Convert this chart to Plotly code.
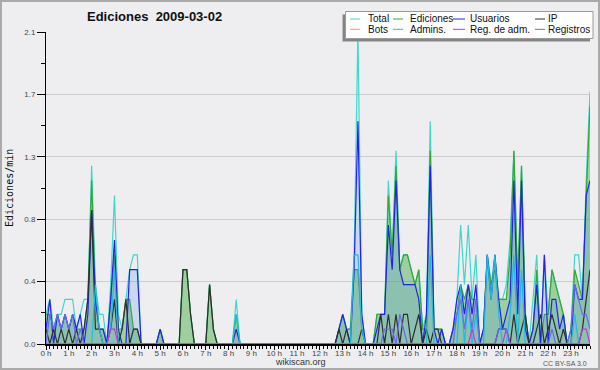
import plotly.graph_objects as go

# ---------------- data (10-minute bins, edits per minute) ----------------
HOUR_LABELS = [f"{h} h" for h in range(24)]
Y_TICKS = [0, 0.42, 0.84, 1.26, 1.68, 2.1]
Y_LABELS = ["0.0", "0.4", "0.8", "1.3", "1.7", "2.1"]

total = [
    0.2, 0.3, 0.1, 0.2, 0.2, 0.3,   # 0 h
    0.3, 0.3, 0.1, 0.2, 0.3, 0.3,   # 1 h
    1.2, 0.4, 0.2, 0.2, 0.0, 0.4,   # 2 h
    1.0, 0.2, 0.1, 0.3, 0.5, 0.6,   # 3 h
    0.6, 0.0, 0.0, 0.0, 0.0, 0.0,   # 4 h
    0.1, 0.0, 0.0, 0.0, 0.0, 0.0,   # 5 h
    0.5, 0.5, 0.2, 0.0, 0.0, 0.0,   # 6 h
    0.0, 0.4, 0.1, 0.0, 0.0, 0.0,   # 7 h
    0.0, 0.0, 0.3, 0.0, 0.0, 0.0,   # 8 h
    0.0, 0.0, 0.0, 0.0, 0.0, 0.0,   # 9 h
    0.0, 0.0, 0.0, 0.0, 0.0, 0.0,   # 10 h
    0.0, 0.0, 0.0, 0.0, 0.0, 0.0,   # 11 h
    0.0, 0.0, 0.0, 0.0, 0.0, 0.1,   # 12 h
    0.2, 0.1, 0.1, 0.6, 2.1, 0.2,   # 13 h
    0.0, 0.0, 0.0, 0.2, 0.2, 0.2,   # 14 h
    1.1, 0.6, 1.3, 0.5, 0.6, 0.6,   # 15 h
    0.5, 0.4, 0.5, 0.1, 0.2, 1.5,   # 16 h
    0.1, 0.1, 0.1, 0.0, 0.0, 0.1,   # 17 h
    0.3, 0.8, 0.4, 0.8, 0.3, 0.6,   # 18 h
    0.0, 0.1, 0.6, 0.4, 0.6, 0.3,   # 19 h
    0.3, 0.4, 0.7, 1.3, 0.4, 1.2,   # 20 h
    0.2, 0.0, 0.3, 0.6, 0.0, 0.6,   # 21 h
    0.2, 0.5, 0.4, 0.3, 0.2, 0.0,   # 22 h
    0.1, 0.6, 0.6, 0.3, 1.1, 1.7,   # 23 h
]

ediciones = [
    0.2, 0.2, 0.1, 0.2, 0.1, 0.2,
    0.1, 0.2, 0.1, 0.1, 0.1, 0.3,
    1.1, 0.3, 0.1, 0.1, 0.0, 0.3,
    0.6, 0.1, 0.1, 0.3, 0.3, 0.1,
    0.1, 0.0, 0.0, 0.0, 0.0, 0.0,
    0.1, 0.0, 0.0, 0.0, 0.0, 0.0,
    0.5, 0.5, 0.2, 0.0, 0.0, 0.0,
    0.0, 0.4, 0.1, 0.0, 0.0, 0.0,
    0.0, 0.0, 0.2, 0.0, 0.0, 0.0,
    0.0, 0.0, 0.0, 0.0, 0.0, 0.0,
    0.0, 0.0, 0.0, 0.0, 0.0, 0.0,
    0.0, 0.0, 0.0, 0.0, 0.0, 0.0,
    0.0, 0.0, 0.0, 0.0, 0.0, 0.1,
    0.2, 0.1, 0.1, 0.5, 0.5, 0.1,
    0.0, 0.0, 0.0, 0.2, 0.2, 0.2,
    1.0, 0.6, 1.2, 0.5, 0.6, 0.6,
    0.5, 0.4, 0.5, 0.1, 0.1, 1.3,
    0.1, 0.1, 0.1, 0.0, 0.0, 0.1,
    0.2, 0.4, 0.3, 0.4, 0.3, 0.3,
    0.0, 0.1, 0.6, 0.4, 0.5, 0.3,
    0.3, 0.3, 0.6, 1.3, 0.4, 1.2,
    0.2, 0.0, 0.1, 0.5, 0.0, 0.2,
    0.2, 0.5, 0.4, 0.3, 0.2, 0.0,
    0.1, 0.5, 0.4, 0.3, 1.0, 1.6,
]

usuarios = [
    0.1, 0.3, 0.0, 0.2, 0.1, 0.2,
    0.1, 0.2, 0.1, 0.2, 0.0, 0.2,
    0.9, 0.3, 0.1, 0.1, 0.0, 0.3,
    0.7, 0.1, 0.0, 0.0, 0.5, 0.5,
    0.5, 0.0, 0.0, 0.0, 0.0, 0.0,
    0.1, 0.0, 0.0, 0.0, 0.0, 0.0,
    0.0, 0.0, 0.0, 0.0, 0.0, 0.0,
    0.0, 0.0, 0.0, 0.0, 0.0, 0.0,
    0.0, 0.0, 0.1, 0.0, 0.0, 0.0,
    0.0, 0.0, 0.0, 0.0, 0.0, 0.0,
    0.0, 0.0, 0.0, 0.0, 0.0, 0.0,
    0.0, 0.0, 0.0, 0.0, 0.0, 0.0,
    0.0, 0.0, 0.0, 0.0, 0.0, 0.1,
    0.2, 0.1, 0.0, 0.5, 1.5, 0.2,
    0.0, 0.0, 0.0, 0.1, 0.2, 0.2,
    0.8, 0.5, 1.1, 0.5, 0.4, 0.4,
    0.4, 0.4, 0.3, 0.0, 0.2, 1.2,
    0.1, 0.0, 0.1, 0.0, 0.0, 0.1,
    0.3, 0.4, 0.2, 0.4, 0.2, 0.4,
    0.0, 0.1, 0.6, 0.3, 0.6, 0.3,
    0.1, 0.2, 0.3, 1.1, 0.2, 1.1,
    0.1, 0.0, 0.1, 0.4, 0.0, 0.6,
    0.0, 0.3, 0.3, 0.1, 0.2, 0.0,
    0.0, 0.4, 0.3, 0.3, 1.0, 1.1,
]

ip = [
    0.1, 0.0, 0.1, 0.0, 0.1, 0.0,
    0.1, 0.0, 0.1, 0.0, 0.1, 0.3,
    0.9, 0.1, 0.1, 0.0, 0.0, 0.1,
    0.3, 0.0, 0.1, 0.3, 0.0, 0.1,
    0.1, 0.0, 0.0, 0.0, 0.0, 0.0,
    0.0, 0.0, 0.0, 0.0, 0.0, 0.0,
    0.5, 0.5, 0.2, 0.0, 0.0, 0.0,
    0.0, 0.4, 0.1, 0.0, 0.0, 0.0,
    0.0, 0.0, 0.0, 0.0, 0.0, 0.0,
    0.0, 0.0, 0.0, 0.0, 0.0, 0.0,
    0.0, 0.0, 0.0, 0.0, 0.0, 0.0,
    0.0, 0.0, 0.0, 0.0, 0.0, 0.0,
    0.0, 0.0, 0.0, 0.0, 0.0, 0.1,
    0.0, 0.1, 0.0, 0.0, 0.0, 0.1,
    0.0, 0.0, 0.0, 0.0, 0.2, 0.0,
    0.2, 0.0, 0.2, 0.0, 0.2, 0.2,
    0.0, 0.1, 0.2, 0.0, 0.1, 0.0,
    0.1, 0.1, 0.0, 0.0, 0.0, 0.0,
    0.0, 0.0, 0.0, 0.0, 0.0, 0.0,
    0.0, 0.0, 0.0, 0.0, 0.0, 0.1,
    0.1, 0.1, 0.0, 0.2, 0.0, 0.1,
    0.2, 0.0, 0.0, 0.1, 0.2, 0.0,
    0.1, 0.2, 0.1, 0.0, 0.1, 0.0,
    0.0, 0.0, 0.0, 0.1, 0.3, 0.5,
]

bots = [
    0.0, 0.0, 0.0, 0.0, 0.0, 0.0,
    0.0, 0.0, 0.0, 0.0, 0.0, 0.0,
    0.0, 0.0, 0.0, 0.0, 0.0, 0.0,
    0.0, 0.0, 0.0, 0.0, 0.0, 0.0,
    0.0, 0.0, 0.0, 0.0, 0.0, 0.0,
    0.0, 0.0, 0.0, 0.0, 0.0, 0.0,
    0.0, 0.0, 0.0, 0.0, 0.0, 0.0,
    0.0, 0.0, 0.0, 0.0, 0.0, 0.0,
    0.0, 0.0, 0.0, 0.0, 0.0, 0.0,
    0.0, 0.0, 0.0, 0.0, 0.0, 0.0,
    0.0, 0.0, 0.0, 0.0, 0.0, 0.0,
    0.0, 0.0, 0.0, 0.0, 0.0, 0.0,
    0.0, 0.0, 0.0, 0.0, 0.0, 0.0,
    0.0, 0.0, 0.0, 0.0, 0.0, 0.0,
    0.0, 0.0, 0.0, 0.0, 0.0, 0.0,
    0.0, 0.0, 0.0, 0.0, 0.0, 0.0,
    0.0, 0.0, 0.0, 0.0, 0.0, 0.0,
    0.0, 0.0, 0.0, 0.0, 0.0, 0.0,
    0.0, 0.0, 0.0, 0.0, 0.0, 0.0,
    0.0, 0.0, 0.0, 0.0, 0.0, 0.0,
    0.0, 0.0, 0.0, 0.0, 0.0, 0.0,
    0.0, 0.0, 0.0, 0.0, 0.0, 0.0,
    0.0, 0.0, 0.0, 0.0, 0.0, 0.0,
    0.0, 0.0, 0.0, 0.0, 0.0, 0.0,
]

admins = [
    0.0, 0.0, 0.0, 0.0, 0.0, 0.0,
    0.0, 0.0, 0.0, 0.0, 0.0, 0.0,
    0.0, 0.4, 0.1, 0.0, 0.0, 0.1,
    0.5, 0.0, 0.0, 0.0, 0.0, 0.0,
    0.0, 0.0, 0.0, 0.0, 0.0, 0.0,
    0.0, 0.0, 0.0, 0.0, 0.0, 0.0,
    0.0, 0.0, 0.0, 0.0, 0.0, 0.0,
    0.0, 0.0, 0.0, 0.0, 0.0, 0.0,
    0.0, 0.0, 0.2, 0.0, 0.0, 0.0,
    0.0, 0.0, 0.0, 0.0, 0.0, 0.0,
    0.0, 0.0, 0.0, 0.0, 0.0, 0.0,
    0.0, 0.0, 0.0, 0.0, 0.0, 0.0,
    0.0, 0.0, 0.0, 0.0, 0.0, 0.0,
    0.0, 0.0, 0.0, 0.6, 0.6, 0.1,
    0.0, 0.0, 0.0, 0.0, 0.0, 0.0,
    0.0, 0.0, 0.0, 0.0, 0.0, 0.0,
    0.0, 0.0, 0.0, 0.0, 0.0, 0.6,
    0.0, 0.0, 0.0, 0.0, 0.0, 0.0,
    0.0, 0.4, 0.0, 0.3, 0.0, 0.2,
    0.0, 0.0, 0.6, 0.3, 0.6, 0.2,
    0.0, 0.0, 0.2, 0.6, 0.0, 0.5,
    0.0, 0.0, 0.0, 0.0, 0.0, 0.0,
    0.0, 0.0, 0.0, 0.0, 0.0, 0.0,
    0.0, 0.2, 0.0, 0.0, 0.0, 0.0,
]

reg_adm = [
    0.0, 0.0, 0.0, 0.0, 0.0, 0.0,
    0.0, 0.0, 0.0, 0.0, 0.0, 0.0,
    0.0, 0.0, 0.0, 0.0, 0.0, 0.1,
    0.1, 0.0, 0.0, 0.0, 0.0, 0.0,
    0.0, 0.0, 0.0, 0.0, 0.0, 0.0,
    0.0, 0.0, 0.0, 0.0, 0.0, 0.0,
    0.0, 0.0, 0.0, 0.0, 0.0, 0.0,
    0.0, 0.0, 0.0, 0.0, 0.0, 0.0,
    0.0, 0.0, 0.0, 0.0, 0.0, 0.0,
    0.0, 0.0, 0.0, 0.0, 0.0, 0.0,
    0.0, 0.0, 0.0, 0.0, 0.0, 0.0,
    0.0, 0.0, 0.0, 0.0, 0.0, 0.0,
    0.0, 0.0, 0.0, 0.0, 0.0, 0.0,
    0.0, 0.0, 0.0, 0.0, 0.0, 0.0,
    0.0, 0.0, 0.0, 0.0, 0.0, 0.0,
    0.0, 0.0, 0.0, 0.0, 0.0, 0.0,
    0.0, 0.0, 0.0, 0.0, 0.0, 0.0,
    0.0, 0.0, 0.0, 0.0, 0.0, 0.0,
    0.0, 0.0, 0.0, 0.0, 0.1, 0.0,
    0.0, 0.0, 0.0, 0.0, 0.0, 0.0,
    0.0, 0.1, 0.0, 0.0, 0.0, 0.0,
    0.0, 0.0, 0.0, 0.0, 0.0, 0.0,
    0.0, 0.0, 0.0, 0.0, 0.0, 0.0,
    0.0, 0.0, 0.0, 0.1, 0.1, 0.0,
]

registros = [
    0.0, 0.2, 0.1, 0.2, 0.1, 0.2,
    0.1, 0.2, 0.0, 0.1, 0.0, 0.0,
    0.0, 0.0, 0.0, 0.0, 0.0, 0.0,
    0.0, 0.0, 0.0, 0.0, 0.0, 0.0,
    0.0, 0.0, 0.0, 0.0, 0.0, 0.0,
    0.0, 0.0, 0.0, 0.0, 0.0, 0.0,
    0.0, 0.0, 0.0, 0.0, 0.0, 0.0,
    0.0, 0.0, 0.0, 0.0, 0.0, 0.0,
    0.0, 0.0, 0.0, 0.0, 0.0, 0.0,
    0.0, 0.0, 0.0, 0.0, 0.0, 0.0,
    0.0, 0.0, 0.0, 0.0, 0.0, 0.0,
    0.0, 0.0, 0.0, 0.0, 0.0, 0.0,
    0.0, 0.0, 0.0, 0.0, 0.0, 0.0,
    0.0, 0.0, 0.0, 0.0, 0.0, 0.0,
    0.0, 0.0, 0.0, 0.0, 0.0, 0.1,
    0.1, 0.1, 0.0, 0.2, 0.1, 0.0,
    0.0, 0.0, 0.0, 0.0, 0.0, 0.0,
    0.0, 0.0, 0.0, 0.0, 0.0, 0.0,
    0.2, 0.3, 0.1, 0.3, 0.1, 0.3,
    0.0, 0.0, 0.0, 0.0, 0.0, 0.1,
    0.1, 0.1, 0.0, 0.0, 0.0, 0.0,
    0.0, 0.0, 0.0, 0.0, 0.0, 0.0,
    0.0, 0.1, 0.0, 0.0, 0.0, 0.0,
    0.1, 0.4, 0.3, 0.2, 0.2, 0.1,
]

SERIES = [
    ("Total", total, "#3fd6cc", None),
    ("Ediciones", ediciones, "#33a833", "rgba(60,170,60,0.45)"),
    ("Usuarios", usuarios, "#2222ee", "rgba(80,140,230,0.22)"),
    ("IP", ip, "#2e2e2e", None),
    ("Bots", bots, "#ff9933", None),
    ("Admins.", admins, "#22bbdd", None),
    ("Reg. de adm.", reg_adm, "#cc33dd", None),
    ("Registros", registros, "#6a6af0", None),
]

N = len(total)
x = list(range(N))

# ---------------- geometry helpers (pixels -> paper) ----------------
W, H = 600, 370
ML, MR, MT, MB = 46, 10, 32, 26
PW, PH = W - ML - MR, H - MT - MB


def px(xp):
    return (xp - ML) / PW


def py(yp):
    return (H - MB - yp) / PH


fig = go.Figure()
for name, vals, color, fillc in SERIES:
    kw = {}
    if fillc:
        kw = dict(fill="tozeroy", fillcolor=fillc)
    fig.add_trace(go.Scatter(x=x, y=vals, name=name, mode="lines",
                             line=dict(color=color, width=1.2), **kw))

FONT = "Liberation Sans, Arial, sans-serif"

shapes = [
    # outer frame
    dict(type="rect", xref="paper", yref="paper", x0=px(1), x1=px(599), y0=py(369), y1=py(1),
         line=dict(color="#aaaaaa", width=2), fillcolor="rgba(0,0,0,0)", layer="above"),
    # legend shadow and box
    dict(type="rect", xref="paper", yref="paper", x0=px(342.5), x1=px(590), y0=py(41.5), y1=py(14.5),
         line=dict(width=0), fillcolor="#858585", layer="above"),
    dict(type="rect", xref="paper", yref="paper", x0=px(345.5), x1=px(593), y0=py(38.5), y1=py(11.5),
         line=dict(color="#999999", width=1), fillcolor="white", layer="above"),
]

annotations = [
    dict(text="<b>Ediciones\u00a0\u00a02009-03-02</b>", x=px(154), y=py(16.5), xref="paper", yref="paper",
         showarrow=False, xanchor="center", yanchor="middle", font=dict(family=FONT, size=13, color="#111")),
    dict(text="Ediciones/min", x=px(9), y=py(188), xref="paper", yref="paper", textangle=-90,
         showarrow=False, xanchor="center", yanchor="middle",
         font=dict(family="DejaVu Sans Mono, monospace", size=10, color="#111")),
    dict(text="wikiscan.org", x=px(300), y=py(361.5), xref="paper", yref="paper",
         showarrow=False, xanchor="center", yanchor="middle", font=dict(family=FONT, size=9, color="#333")),
    dict(text="CC BY-SA 3.0", x=px(589), y=py(363), xref="paper", yref="paper",
         showarrow=False, xanchor="right", yanchor="middle", font=dict(family=FONT, size=7, color="#555")),
]

# manual legend, 4 columns x 2 rows
col_sym = [(350, 360), (393, 403), (453, 465), (535, 545)]
col_txt = [366, 408, 468, 546]
row_y = [19, 29.3]
for k, (name, vals, color, fillc) in enumerate(SERIES):
    r, c = divmod(k, 4)
    s0, s1 = col_sym[c]
    shapes.append(dict(type="line", xref="paper", yref="paper", x0=px(s0), x1=px(s1),
                       y0=py(row_y[r]), y1=py(row_y[r]), line=dict(color=color, width=1), layer="above"))
    annotations.append(dict(text=name, x=px(col_txt[c]), y=py(row_y[r]), xref="paper", yref="paper",
                            showarrow=False, xanchor="left", yanchor="middle",
                            font=dict(family=FONT, size=10, color="#111")))

fig.update_layout(
    width=W, height=H,
    margin=dict(l=ML, r=MR, t=MT, b=MB, autoexpand=False),
    paper_bgcolor="#eeeef0", plot_bgcolor="#eeeef0",
    showlegend=False,
    shapes=shapes, annotations=annotations,
    xaxis=dict(range=[0, N - 1], tickmode="array", tickvals=[6 * h for h in range(24)], ticktext=HOUR_LABELS,
               ticks="outside", ticklen=4, tickwidth=1, tickcolor="black",
               minor=dict(tickvals=[i for i in range(N) if i % 6], ticks="outside", ticklen=3,
                          tickwidth=1, tickcolor="black", showgrid=False),
               showgrid=False, zeroline=False, showline=True, linecolor="black", linewidth=1.5,
               tickfont=dict(family=FONT, size=8, color="#444"), layer="above traces",
               ticklabelstandoff=-3),
    yaxis=dict(range=[0, 2.1], tickmode="array", tickvals=Y_TICKS, ticktext=Y_LABELS,
               ticks="outside", ticklen=8, tickwidth=1, tickcolor="black",
               minor=dict(tickvals=[0.21, 0.63, 1.05, 1.47, 1.89], ticks="outside", ticklen=4,
                          tickwidth=1, tickcolor="black", showgrid=False),
               showgrid=True, gridcolor="#cccccc", gridwidth=1, zeroline=False,
               showline=True, linecolor="black", linewidth=1,
               tickfont=dict(family=FONT, size=8, color="#444")),
)

fig.write_html("out.html")
